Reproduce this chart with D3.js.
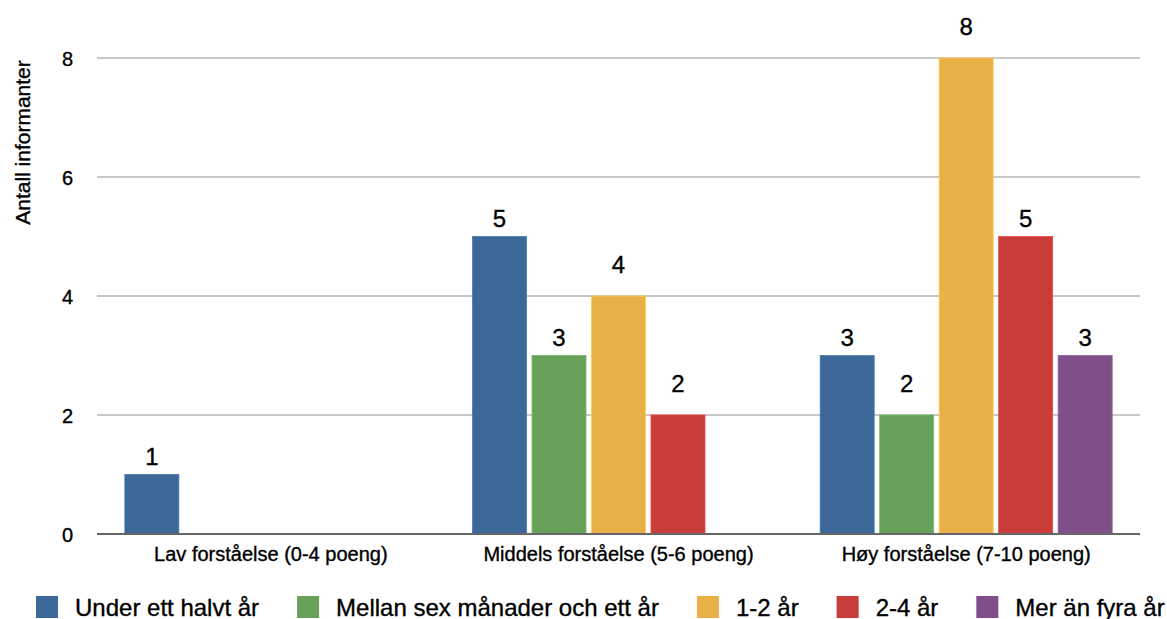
<!DOCTYPE html>
<html>
<head>
<meta charset="utf-8">
<script src="https://cdn.jsdelivr.net/npm/d3@7"></script>
<style>
  html, body { margin: 0; padding: 0; background: #fff; }
  svg { display: block; font-family: "Liberation Sans", Arial, Helvetica, sans-serif; }
  svg text { fill: #000; stroke: #000; stroke-width: 0.35px; }
</style>
</head>
<body>
<svg id="chart" width="1167" height="619"></svg>
<script>
// Groups along the x axis
const categories = [
  "Lav forståelse (0-4 poeng)",
  "Middels forståelse (5-6 poeng)",
  "Høy forståelse (7-10 poeng)"
];

// Series names (legend order) and their colours
const seriesNames = [
  "Under ett halvt år",
  "Mellan sex månader och ett år",
  "1-2 år",
  "2-4 år",
  "Mer än fyra år"
];
const seriesColors = ["#3b6899", "#68a15a", "#eab048", "#c83c3a", "#804f8a"];

// Counts per series, one value per category
const underEttHalvtAr = [1, 5, 3];
const mellanSexManader = [0, 3, 2];
const ettTillTvaAr = [0, 4, 8];
const tvaTillFyraAr = [0, 2, 5];
const merAnFyraAr = [0, 0, 3];

const yTicks = [0, 2, 4, 6, 8];
const yTitle = "Antall informanter";

const seriesValues = [underEttHalvtAr, mellanSexManader, ettTillTvaAr, tvaTillFyraAr, merAnFyraAr];

const svg = d3.select("#chart");
const plotLeft = 97, plotRight = 1140, plotTop = 58, plotBottom = 534;

const x0 = d3.scaleBand().domain(categories).range([plotLeft, plotRight]).paddingInner(0).paddingOuter(0);
const x1 = d3.scaleBand().domain(seriesNames).range([0, x0.bandwidth()])
  .paddingInner(0.0924).paddingOuter(0.468);
const y = d3.scaleLinear().domain([0, 8]).range([plotBottom, plotTop]);

// Horizontal grid lines
svg.append("g").selectAll("line").data(yTicks).join("line")
  .attr("x1", plotLeft).attr("x2", plotRight)
  .attr("y1", d => y(d)).attr("y2", d => y(d))
  .attr("stroke", "#c8c8c8").attr("stroke-width", 2);

// Y axis tick labels
const yAxis = d3.axisLeft(y).tickValues(yTicks).tickSize(0).tickPadding(0);
const yg = svg.append("g").attr("transform", `translate(73,0)`).call(yAxis);
yg.select(".domain").remove();
yg.selectAll("text").attr("font-size", 20)
  .attr("font-family", "Liberation Sans, Arial, sans-serif").attr("dy", "0.36em");

// Y axis title
svg.append("text")
  .attr("transform", `translate(30,${(55 + 230) / 2}) rotate(-90)`)
  .attr("text-anchor", "middle")
  .attr("font-size", 21)
  .text(yTitle);

// Bars
const rows = [];
categories.forEach((c, ci) => {
  seriesNames.forEach((s, si) => {
    rows.push({ cat: c, series: s, value: seriesValues[si][ci], color: seriesColors[si] });
  });
});
const visible = rows.filter(d => d.value > 0);

svg.append("g").selectAll("rect").data(visible).join("rect")
  .attr("x", d => x0(d.cat) + x1(d.series))
  .attr("y", d => y(d.value))
  .attr("width", x1.bandwidth())
  .attr("height", d => y(0) - y(d.value))
  .attr("fill", d => d.color)
  .attr("stroke", d => d3.color(d.color).brighter(0.4))
  .attr("stroke-width", 0.8);

// Value labels above bars (lifted clear of the grid line when the top sits on one)
svg.append("g").selectAll("text").data(visible).join("text")
  .attr("x", d => x0(d.cat) + x1(d.series) + x1.bandwidth() / 2)
  .attr("y", d => y(d.value) - (yTicks.includes(d.value) ? 23 : 10))
  .attr("text-anchor", "middle")
  .attr("font-size", 24)
  .text(d => d.value);

// Baseline
svg.append("line")
  .attr("x1", plotLeft).attr("x2", plotRight)
  .attr("y1", y(0)).attr("y2", y(0))
  .attr("stroke", "#666").attr("stroke-width", 2);

// Category labels
svg.append("g").selectAll("text").data(categories).join("text")
  .attr("x", d => x0(d) + x0.bandwidth() / 2)
  .attr("y", 561)
  .attr("text-anchor", "middle")
  .attr("font-size", 20)
  .text(d => d);

// Legend
const legend = svg.append("g");
let lx = 36;
const ly = 607;
seriesNames.forEach((s, i) => {
  legend.append("rect")
    .attr("x", lx).attr("y", ly - 11)
    .attr("width", 22).attr("height", 22)
    .attr("fill", seriesColors[i]);
  const t = legend.append("text")
    .attr("x", lx + 39).attr("y", ly + 8.5)
    .attr("font-size", 24)
    .text(s);
  lx += 39 + t.node().getComputedTextLength() + 38;
});
</script>
</body>
</html>
